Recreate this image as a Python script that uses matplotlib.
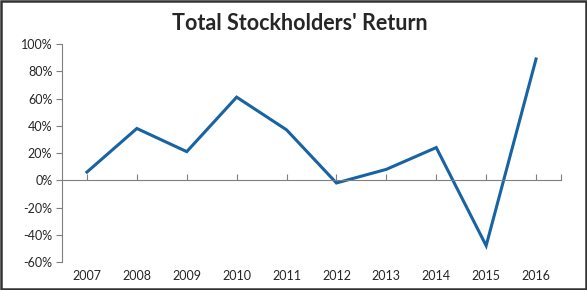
import matplotlib
matplotlib.use("Agg")
import matplotlib.pyplot as plt
from matplotlib.ticker import FuncFormatter

years = ['2007', '2008', '2009', '2010', '2011', '2012', '2013', '2014', '2015', '2016']
tsr = [6, 38, 21, 61, 37, -2, 8, 24, -48, 89]

plt.rcParams['font.family'] = ['Lato', 'DejaVu Sans']

fig = plt.figure(figsize=(5.87, 2.90), dpi=100)
ax = fig.add_axes([62 / 587, 1 - 262 / 290, (561 - 62) / 587, (262 - 44) / 290])

x = list(range(len(years)))
ax.plot(x, tsr, color='#1763a3', lw=2.2, solid_joinstyle='miter')

ax.set_xlim(-0.5, len(years) - 0.5)
ax.set_ylim(-60, 100)
ax.set_yticks(range(-60, 101, 20))
ax.yaxis.set_major_formatter(FuncFormatter(lambda v, p: '{:d}%'.format(int(v))))
ax.tick_params(axis='y', direction='out', length=4, color='#7f7f7f',
               labelsize=9, labelcolor='#262626', pad=3)

# category axis crosses at 0, labels sit at the bottom
for s in ['top', 'right']:
    ax.spines[s].set_visible(False)
ax.spines['left'].set_color('#7f7f7f')
ax.spines['bottom'].set_position(('data', 0))
ax.spines['bottom'].set_color('#7f7f7f')
ax.set_xticks(x + [len(years) - 0.5])
ax.tick_params(axis='x', direction='in', length=4, color='#7f7f7f', labelbottom=False)

sec = ax.secondary_xaxis('bottom')
sec.set_xticks(x)
sec.set_xticklabels(years)
sec.tick_params(length=0, labelsize=9, labelcolor='#262626', pad=6)
sec.spines['bottom'].set_visible(False)

fig.text(0.511, 1 - 24 / 290, "Total Stockholders' Return", ha='center', va='center',
         fontsize=15.5, fontweight='bold', color='#262626')

fig.patches.append(plt.Rectangle((0.002, 0.003), 0.996, 0.994, transform=fig.transFigure,
                                 fill=False, edgecolor='#333333', lw=1.8))

plt.savefig("out.png", dpi=100)
